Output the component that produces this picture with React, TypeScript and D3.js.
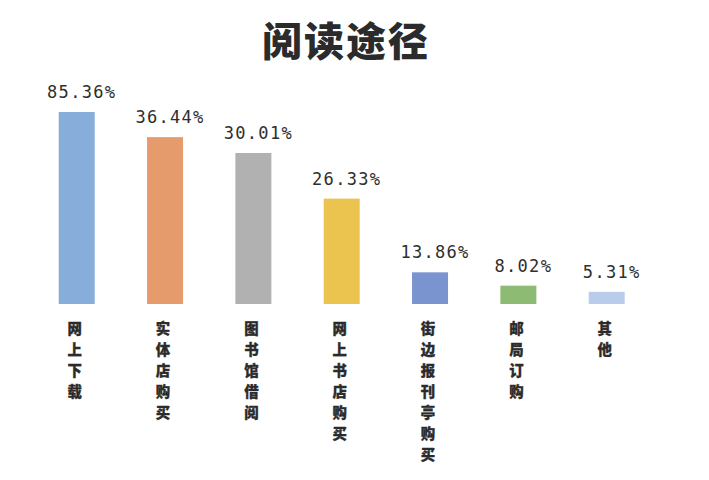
import React from "react";
import * as d3 from "d3";

const title = "阅读途径";
const categories = ["网上下载", "实体店购买", "图书馆借阅", "网上书店购买", "街边报刊亭购买", "邮局订购", "其他"];
const values = [85.36, 36.44, 30.01, 26.33, 13.86, 8.02, 5.31];
const colors = ["#87AEDA", "#E59B6B", "#B1B1B1", "#EBC34F", "#7A94D0", "#8EBB74", "#B9CCEB"];

const W = 709;
const H = 480;

export default function App() {
  const x = d3.scalePoint<string>().domain(categories).range([76.7, 606.7]);
  // broken (polylinear) value axis, as in the original hand-styled chart
  const y = d3
    .scaleLinear()
    .domain([0, 14, 26.3, 30, 36.5, 85.4])
    .range([304, 272, 199, 153, 137, 112]);
  const barW = 36;
  const labelFont = "'DejaVu Sans Mono', monospace";
  const cjk = "'Noto Sans CJK SC', sans-serif";

  return (
    <svg
      width={W}
      height={H}
      style={{ position: "absolute", left: 0, top: 0, display: "block", background: "#fff" }}
    >
      <text
        x={346}
        y={56}
        textAnchor="middle"
        fontFamily={cjk}
        fontWeight={900}
        fontSize={40}
        fill="#2b2b2b"
        letterSpacing={2}
      >
        {title}
      </text>
      {categories.map((c, i) => {
        const cx = x(c)!;
        const top = y(values[i]);
        return (
          <g key={c}>
            <rect x={cx - barW / 2} y={top} width={barW} height={y(0) - top} fill={colors[i]} />
            <text
              x={cx + 5}
              y={top - 14}
              textAnchor="middle"
              fontFamily={labelFont}
              fontSize={17}
              letterSpacing={1.3}
              fill="#2e2e2e"
            >
              {values[i].toFixed(2) + "%"}
            </text>
            {Array.from(c).map((ch, j) => (
              <text
                key={j}
                x={cx - 2}
                y={334 + j * 21}
                textAnchor="middle"
                fontFamily={cjk}
                fontWeight={900}
                fontSize={14.4}
                stroke="#2b2b2b"
                strokeWidth={0.3}
                fill="#2b2b2b"
              >
                {ch}
              </text>
            ))}
          </g>
        );
      })}
    </svg>
  );
}
